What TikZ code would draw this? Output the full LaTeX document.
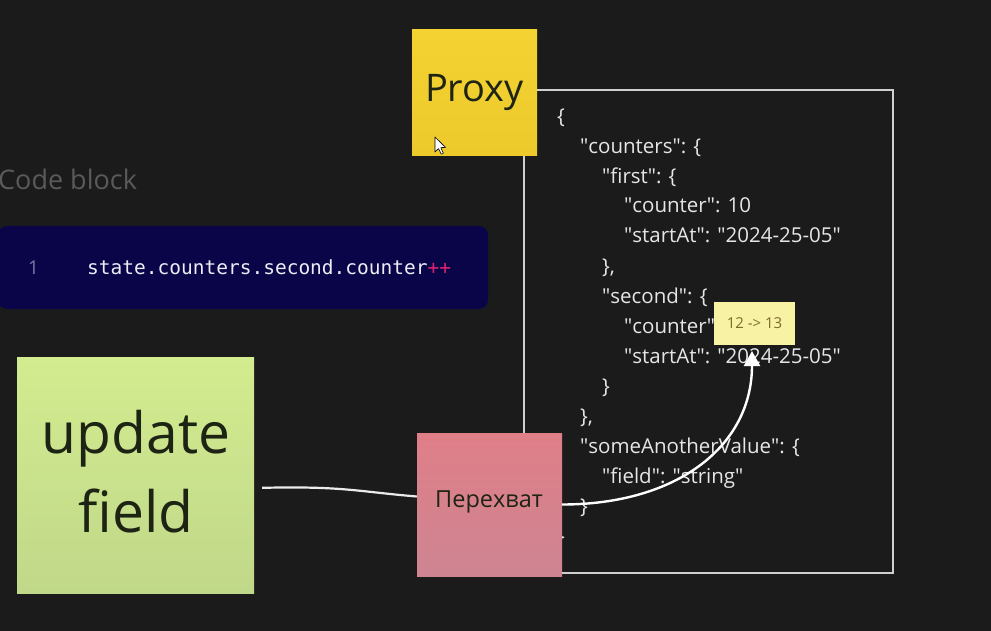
\documentclass[tikz,border=0pt]{standalone}
\usepackage{fontspec}
\setmainfont{Open Sans}
\newfontfamily\codefont{DejaVu Sans Mono}
\usetikzlibrary{arrows.meta}
\definecolor{bg}{HTML}{1B1B1B}
\definecolor{framecol}{HTML}{CFCFCF}
\definecolor{jsoncol}{HTML}{E6E6E6}
\definecolor{codebg}{HTML}{0A0548}
\definecolor{codetext}{HTML}{ECECF4}
\definecolor{linenum}{HTML}{7A78A8}
\definecolor{pluscol}{HTML}{D8246E}
\definecolor{labelgray}{HTML}{5A5A5A}
\definecolor{proxytop}{HTML}{F3D231}
\definecolor{proxybot}{HTML}{EDCA2C}
\definecolor{greentop}{HTML}{D3EC8F}
\definecolor{greenbot}{HTML}{C0D889}
\definecolor{pinktop}{HTML}{DF7F88}
\definecolor{pinkbot}{HTML}{CE8492}
\definecolor{smallyel}{HTML}{F7F2A4}
\definecolor{smalltext}{HTML}{7D6B2C}
\definecolor{stickytext}{HTML}{1E2414}
\newcommand\q{\textquotedbl}
\tikzset{
  sticky/.style={inner sep=0pt, text=stickytext, align=center},
  jsontext/.style={inner sep=0pt, anchor=base west, text=jsoncol, font=\fontsize{20.5}{24}\selectfont},
  conn/.style={draw=white!92!black, line width=2.2pt},
  arr/.style={draw=white, line width=2.4pt, -{Triangle[length=15pt,width=16pt]}},
}
\newcommand\jline[4]{\node[jsontext] (#1) at (#2,#3) {#4};}
\begin{document}
\begin{tikzpicture}[x=1pt,y=-1pt]
\useasboundingbox (0,0) rectangle (991,631);
\fill[bg] (0,0) rectangle (991,631);

% frame around JSON
\node[draw=framecol, line width=2pt, minimum width=369pt, minimum height=483pt, inner sep=0pt] (frame) at (708.5,331.5) {};

% JSON text
\jline{j1}{557}{124}{\{}
\jline{j2}{580}{154}{\q counters\q: \{}
\jline{j3}{602}{184}{\q first\q: \{}
\jline{j4}{624}{213}{\q counter\q: 10}
\jline{j5}{624}{243}{\q startAt\q: \q 2024-25-05\q}
\jline{j6}{602}{273}{\},}
\jline{j7}{602}{303}{\q second\q: \{}
\jline{j8}{624}{333}{\q counter\q}
\jline{j9}{624}{363}{\q startAt\q: \q 2024-25-05\q}
\jline{j10}{602}{393}{\}}
\jline{j11}{580}{423}{\},}
\jline{j12}{580}{453}{\q someAnotherValue\q: \{}
\jline{j13}{602}{483}{\q field\q: \q string\q}
\jline{j14}{580}{513}{\}}
\jline{j15}{557}{543}{\}}

% Proxy sticky
\node[sticky, top color=proxytop, bottom color=proxybot, minimum width=125pt, minimum height=126pt, font=\fontsize{38}{40}\selectfont] (proxy) at (474.5,93) {Proxy};
% mouse cursor
\filldraw[fill=white, draw=black, line width=0.6pt, line join=round]
  (435,137) -- (435,152) -- (438.6,148.6) -- (441.2,154.2) -- (443.4,153.2) -- (440.8,147.6) -- (445.6,147.4) -- cycle;

% Code block
\node[inner sep=0pt, anchor=base west, text=labelgray, font=\fontsize{27}{30}\selectfont] (cblabel) at (-2,190) {Code block};
\node[fill=codebg, rounded corners=9pt, minimum width=490pt, minimum height=83pt, inner sep=0pt] (code) at (243,267.5) {};
\node[inner sep=0pt, anchor=base west, text=linenum, font=\fontsize{19}{22}\selectfont] (ln) at (28,275) {1};
\node[inner sep=0pt, anchor=base west, text=codetext, font=\codefont\fontsize{19.5}{22}\selectfont] (codeline) at (87,275) {state.counters.second.counter\textcolor{pluscol}{++}};

% update field sticky
\node[sticky, top color=greentop, bottom color=greenbot, minimum width=237pt, minimum height=236pt] (update) at (135.5,475) {};
\node[sticky, font=\fontsize{57}{79}\selectfont] (updatetext) at (136,472) {update\\field};

% Перехват sticky
\node[sticky, top color=pinktop, bottom color=pinkbot, minimum width=145pt, minimum height=143pt] (perx) at (489.5,504.5) {};
\node[sticky, font=\fontsize{23.5}{26}\selectfont] (perxtext) at (489,502) {Перехват};

% connector update -> Перехват
\draw[conn, shorten <=8pt] ([yshift=-13pt]update.east) .. controls +(90,-2) and +(-60,-5) .. ([yshift=8pt]perx.west);

% small value label
\node[fill=smallyel, minimum width=81pt, minimum height=43pt, inner sep=0pt, text=smalltext, font=\fontsize{15}{17}\selectfont] (val) at (754.5,323.5) {12 -> 13};

% arrow Перехват -> value
\coordinate (tip) at (752,351);
\draw[arr] (perx.east) .. controls +(115,0) and +(0,95) .. (tip);
\end{tikzpicture}
\end{document}
